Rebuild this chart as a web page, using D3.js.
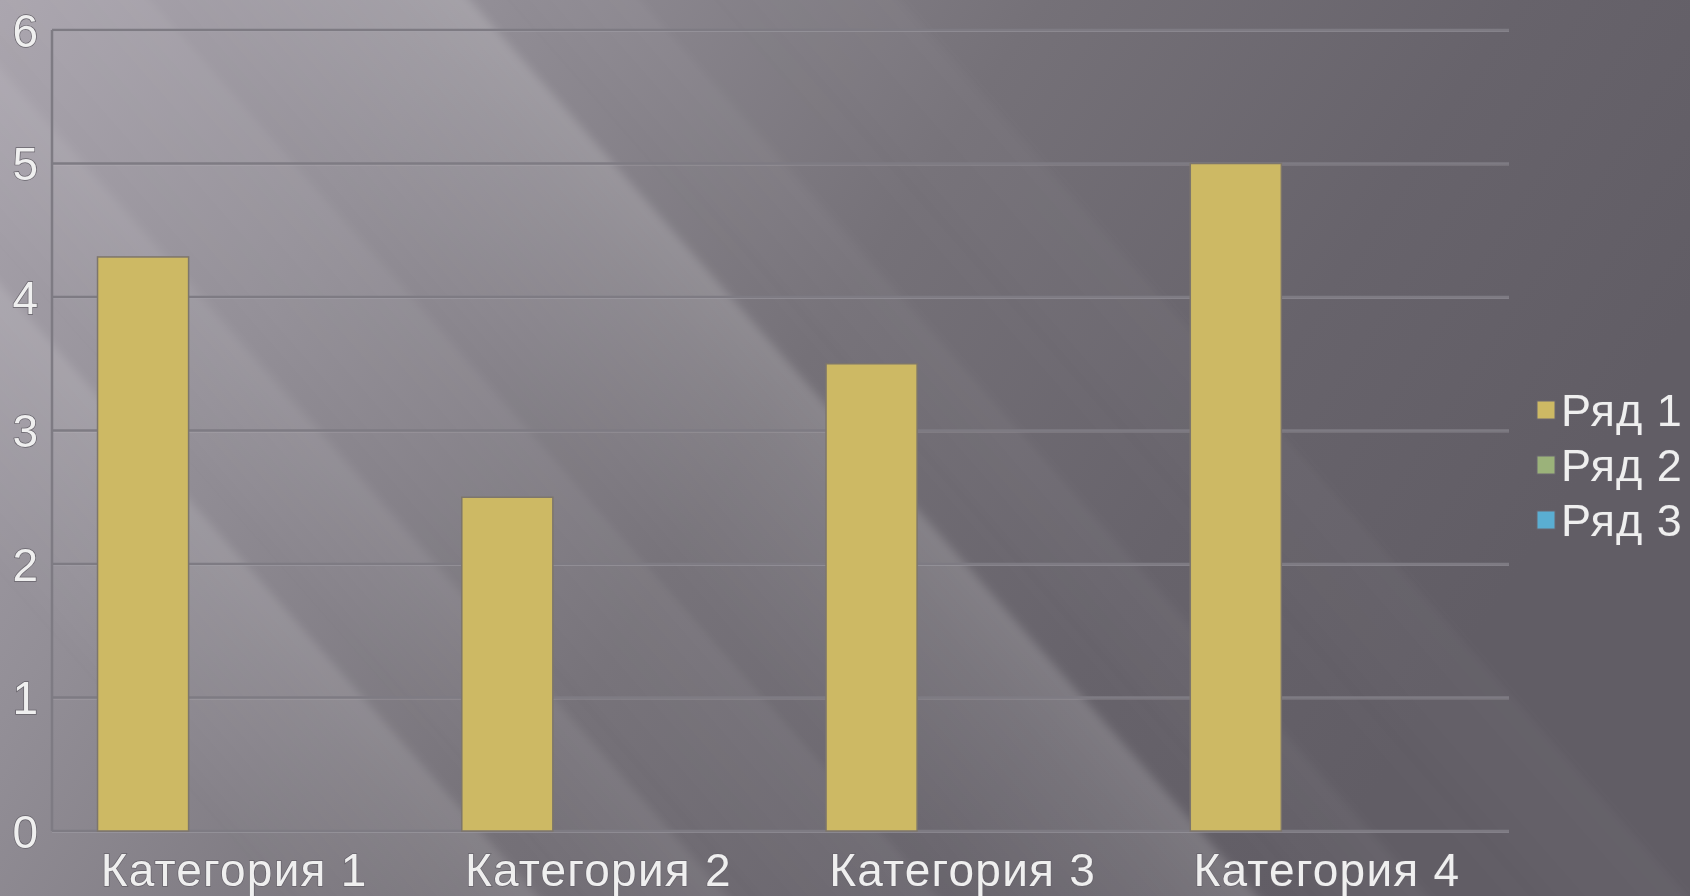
<!DOCTYPE html>
<html lang="ru">
<head>
  <meta charset="UTF-8" />
  <title>Категории</title>
  <style>
    body {
      margin: 0;
      background: #77737a;
      overflow: hidden;
    }

    svg {
      display: block;
    }

    .lbl {
      font-family: "Liberation Sans", Arial, sans-serif;
      fill: #efefef;
      stroke: #66626a;
      stroke-width: 1.4px;
      paint-order: stroke fill;
    }
  </style>
</head>
<body>
  <svg></svg>

  <script src="https://cdnjs.cloudflare.com/ajax/libs/d3/7.8.5/d3.min.js"></script>
  <script>
    // chart data
    const categories = ["Категория 1", "Категория 2", "Категория 3", "Категория 4"];
    const seriesNames = ["Ряд 1", "Ряд 2", "Ряд 3"];
    const series1 = [4.3, 2.5, 3.5, 5];
    const series2 = [0, 0, 0, 0];
    const series3 = [0, 0, 0, 0];
    const yTicks = [0, 1, 2, 3, 4, 5, 6];

    const seriesValues = [series1, series2, series3];
    const seriesColors = ["#cdb964", "#9bb27a", "#5aaed2"];

    const width = 1690;
    const height = 896;
    const margin = {top: 30, right: 181, bottom: 65, left: 52};

    const svg = d3.select("svg")
      .attr("width", width)
      .attr("height", height);

    const defs = svg.append("defs");

    // background gradient
    const bg = defs.append("linearGradient")
      .attr("id", "bg")
      .attr("x1", 0).attr("y1", 0)
      .attr("x2", 1).attr("y2", 0.35);
    [["0", "#aaa5ae"], ["0.25", "#938f97"], ["0.55", "#757178"], ["0.8", "#67636b"], ["1", "#615d65"]]
      .forEach(([o, c]) => bg.append("stop").attr("offset", o).attr("stop-color", c));

    svg.append("rect")
      .attr("width", width)
      .attr("height", height)
      .attr("fill", "url(#bg)");

    // light streaks: sharp on the right edge, fading to the left
    const streakGrad = defs.append("linearGradient")
      .attr("id", "streak")
      .attr("x1", 0).attr("y1", 0).attr("x2", 1).attr("y2", 0);
    streakGrad.append("stop").attr("offset", "0").attr("stop-color", "#fff").attr("stop-opacity", 0);
    streakGrad.append("stop").attr("offset", "0.75").attr("stop-color", "#fff").attr("stop-opacity", 0.7);
    streakGrad.append("stop").attr("offset", "1").attr("stop-color", "#fff").attr("stop-opacity", 1);

    defs.append("filter")
      .attr("id", "soft")
      .append("feGaussianBlur")
      .attr("stdDeviation", 6);

    const streaks = [
      {edge: 470, w: 330, o: 0.16},
      {edge: 640, w: 140, o: 0.04},
      {edge: 150, w: 210, o: 0.06},
      {edge: -60, w: 160, o: 0.08},
      {edge: -250, w: 260, o: 0.12},
      {edge: 900, w: 200, o: 0.03}
    ];
    const skew = 41.3;
    svg.append("g")
      .attr("filter", "url(#soft)")
      .attr("transform", `skewX(${skew})`)
      .selectAll("rect")
      .data(streaks)
      .join("rect")
      .attr("x", d => d.edge - d.w)
      .attr("y", -20)
      .attr("width", d => d.w)
      .attr("height", height + 40)
      .attr("fill", "url(#streak)")
      .attr("opacity", d => d.o);

    const x = d3.scaleBand()
      .domain(categories)
      .range([margin.left, width - margin.right])
      .padding(0);

    const xSub = d3.scaleBand()
      .domain(seriesNames)
      .range([0, x.bandwidth()])
      .paddingInner(0)
      .paddingOuter(0.5);

    const y = d3.scaleLinear()
      .domain([0, 6])
      .range([height - margin.bottom, margin.top]);

    // gridlines
    const grid = svg.append("g");
    grid.selectAll("line.hl")
      .data(yTicks)
      .join("line")
      .attr("class", "hl")
      .attr("x1", margin.left)
      .attr("x2", width - margin.right)
      .attr("y1", d => y(d) + 1.5)
      .attr("y2", d => y(d) + 1.5)
      .attr("stroke", "#c8c5cc")
      .attr("stroke-opacity", 0.35)
      .attr("stroke-width", 1);
    grid.selectAll("line.gl")
      .data(yTicks)
      .join("line")
      .attr("class", "gl")
      .attr("x1", margin.left)
      .attr("x2", width - margin.right)
      .attr("y1", d => y(d))
      .attr("y2", d => y(d))
      .attr("stroke", "#7e7b83")
      .attr("stroke-width", 2.5);

    // vertical axis line
    svg.append("line")
      .attr("x1", margin.left).attr("x2", margin.left)
      .attr("y1", y(6)).attr("y2", y(0))
      .attr("stroke", "#7e7b83")
      .attr("stroke-width", 2.5);

    // bars
    const groups = svg.append("g")
      .selectAll("g")
      .data(categories)
      .join("g")
      .attr("transform", d => `translate(${x(d)},0)`);

    groups.selectAll("rect")
      .data((c, i) => seriesNames.map((s, k) => ({s, k, v: seriesValues[k][i]})))
      .join("rect")
      .attr("x", d => xSub(d.s))
      .attr("width", xSub.bandwidth())
      .attr("y", d => y(d.v))
      .attr("height", d => y(0) - y(d.v))
      .attr("fill", d => seriesColors[d.k])
      .attr("stroke", "#7d766c")
      .attr("stroke-width", d => d.v > 0 ? 1.5 : 0);

    // y tick labels
    svg.append("g")
      .selectAll("text")
      .data(yTicks)
      .join("text")
      .attr("class", "lbl")
      .attr("x", 38)
      .attr("y", d => y(d))
      .attr("dy", "0.36em")
      .attr("text-anchor", "end")
      .attr("font-size", 46)
      .text(d => d);

    // category labels
    svg.append("g")
      .selectAll("text")
      .data(categories)
      .join("text")
      .attr("class", "lbl")
      .attr("x", d => x(d) + x.bandwidth() / 2)
      .attr("y", 886)
      .attr("text-anchor", "middle")
      .attr("font-size", 46)
      .attr("letter-spacing", 1.2)
      .text(d => d);

    // legend
    const legend = svg.append("g")
      .attr("transform", "translate(1537,410)");

    const item = legend.selectAll("g")
      .data(seriesNames)
      .join("g")
      .attr("transform", (d, i) => `translate(0,${i * 55})`);

    item.append("rect")
      .attr("x", 0)
      .attr("y", -9)
      .attr("width", 18)
      .attr("height", 18)
      .attr("fill", (d, i) => seriesColors[i])
      .attr("stroke", "#6b6770")
      .attr("stroke-width", 1);

    item.append("text")
      .attr("class", "lbl")
      .attr("x", 24)
      .attr("dy", "0.36em")
      .attr("font-size", 45)
      .attr("letter-spacing", 1)
      .text(d => d);
  </script>
</body>
</html>
